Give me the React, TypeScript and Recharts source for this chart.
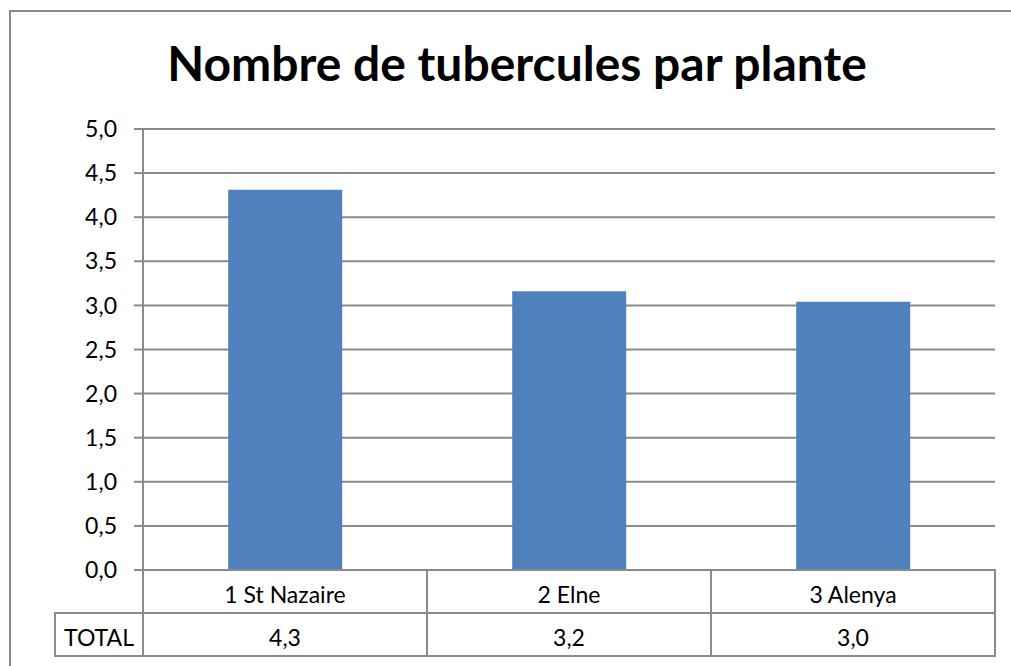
import { BarChart, Bar, XAxis, YAxis, CartesianGrid } from "recharts";

const categories = ["1 St Nazaire", "2 Elne", "3 Alenya"];
const totals = [4.31, 3.16, 3.04];
const yTicks = [0, 0.5, 1, 1.5, 2, 2.5, 3, 3.5, 4, 4.5, 5];
const rowLabel = "TOTAL";
const title = "Nombre de tubercules par plante";

const data = categories.map((name, i) => ({ name, total: totals[i] }));

const GRAY = "#8a8a8a";
const FONT = "Lato, 'Open Sans', sans-serif";
const FS = 23;
const fmt = (v: number) => v.toFixed(1).replace(".", ",");

function TableTick(props: any) {
  const { x, y, payload, index, width } = props;
  const cw = (width || 852) / categories.length;
  const rh = 43;
  const left = x - cw / 2;
  const val = totals[index];
  return (
    <g>
      <rect x={left} y={y} width={cw} height={rh} fill="none" stroke={GRAY} strokeWidth={2} />
      <rect x={left} y={y + rh} width={cw} height={rh} fill="none" stroke={GRAY} strokeWidth={2} />
      <text x={x} y={y + 33} textAnchor="middle" fontSize={FS} fontFamily={FONT} fill="#000">
        {payload.value}
      </text>
      <text x={x} y={y + 76} textAnchor="middle" fontSize={FS} fontFamily={FONT} fill="#000">
        {fmt(val)}
      </text>
      {index === 0 && (
        <g>
          <rect x={left - 88} y={y + rh} width={88} height={rh} fill="none" stroke={GRAY} strokeWidth={2} />
          <text x={left - 44} y={y + 76} textAnchor="middle" fontSize={FS} fontFamily={FONT} fill="#000">
            {rowLabel}
          </text>
        </g>
      )}
    </g>
  );
}

export default function App() {
  return (
    <div style={{ position: "fixed", left: 0, top: 0, width: 1011, height: 666, overflow: "hidden", background: "#fff" }}>
      <div
        style={{
          position: "absolute",
          left: 9,
          top: 10,
          width: 1002,
          height: 656,
          borderTop: `2px solid ${GRAY}`,
          borderLeft: `2px solid ${GRAY}`,
          boxSizing: "border-box",
        }}
      />
      <div
        style={{
          position: "absolute",
          left: 0,
          top: 34,
          width: 1034,
          textAlign: "center",
          fontFamily: FONT,
          fontWeight: 700,
          fontSize: 48,
          lineHeight: "58px",
          color: "#000",
        }}
      >
        {title}
      </div>
      <div style={{ position: "absolute", left: 0, top: 0 }}>
        <BarChart
          width={1011}
          height={666}
          data={data}
          margin={{ top: 129, right: 16, bottom: 0, left: 0 }}
          barCategoryGap="30%"
        >
          <CartesianGrid vertical={false} stroke={GRAY} strokeWidth={2} />
          <YAxis
            width={143}
            domain={[0, 5]}
            ticks={yTicks}
            tickFormatter={fmt}
            tickSize={9}
            tickMargin={17}
            stroke={GRAY}
            strokeWidth={2}
            tick={{ fill: "#000", fontSize: FS, fontFamily: FONT }}
          />
          <XAxis
            dataKey="name"
            height={96}
            tickSize={0}
            tickMargin={0}
            stroke={GRAY}
            strokeWidth={2}
            tick={<TableTick />}
            interval={0}
          />
          <Bar dataKey="total" fill="#4f81bd" isAnimationActive={false} />
        </BarChart>
      </div>
    </div>
  );
}
